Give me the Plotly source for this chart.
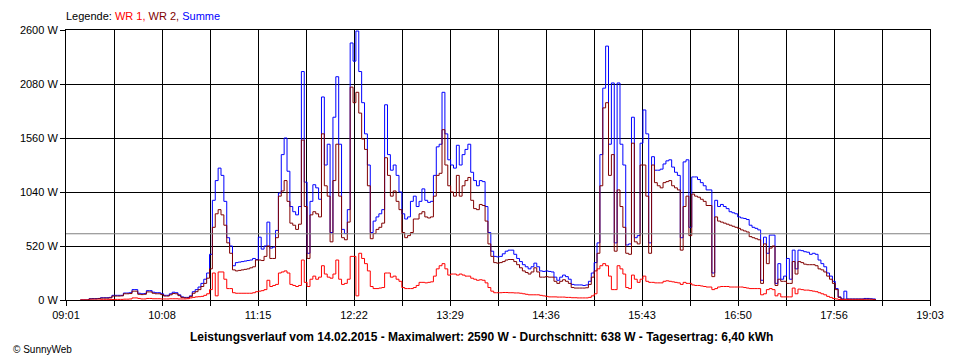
import numpy as np
import plotly.graph_objects as go

# time base: minutes since midnight, 2-minute samples starting 09:11
t_start = 551
t_step = 2

summe = [
    0,0,0,12,13,13,15,22,22,22,
    25,45,45,45,45,67,67,70,100,100,
    65,60,62,90,90,75,70,70,60,45,
    45,60,75,70,50,30,25,25,40,80,
    100,125,160,200,260,440,960,1150,1270,1200,
    950,600,520,330,360,365,370,375,380,385,
    400,390,605,490,520,750,500,510,670,1030,
    1400,1560,1240,900,850,820,900,2200,1135,450,
    950,1110,1080,970,1955,1300,1500,650,1760,2150,
    1500,680,640,870,2475,2300,2590,2200,1900,1600,
    1300,650,760,800,830,870,1880,1400,1250,1300,
    1200,1040,830,780,800,950,1000,900,950,1070,
    960,940,950,1200,1475,1500,2000,1600,1350,1300,
    1270,1490,1300,1400,1450,1500,1230,1150,1100,1150,
    1140,900,650,470,420,415,420,445,470,480,
    480,440,400,370,340,320,300,320,355,320,
    280,275,280,275,270,220,190,220,240,225,
    200,150,145,145,145,140,145,180,260,360,
    550,1400,2040,2445,1500,2090,550,2090,1500,1300,
    530,540,1760,600,620,1510,1830,1600,550,1380,
    1250,1250,1260,1310,1340,1350,1280,1230,1200,600,
    1330,1350,700,1185,1185,1160,1130,1100,1060,1060,
    260,960,900,920,900,880,850,840,830,800,
    790,785,775,720,700,690,675,190,605,450,
    625,625,160,350,200,230,400,200,480,300,
    480,475,465,460,440,450,440,385,350,320,
    260,230,180,110,30,10,85,10,10,10,
    10,10,10,15,15,12,10,0,
]

wr2 = [
    0,0,0,10,11,11,13,18,18,18,
    20,38,38,38,40,60,60,62,85,85,
    55,52,55,78,78,65,60,60,52,38,
    38,50,62,60,42,25,20,20,32,65,
    80,100,130,160,210,300,700,830,870,820,
    720,550,450,290,280,285,290,295,300,310,
    320,385,385,380,420,520,400,400,600,1000,
    1050,1150,950,740,720,680,730,1540,900,400,
    820,850,830,800,1600,1100,1000,560,1150,1500,
    1000,600,580,750,2050,1900,2000,1800,1550,1450,
    1100,590,640,680,700,740,1370,1200,1000,1050,
    950,870,650,600,620,650,780,780,830,850,
    800,790,800,1000,1200,1220,1640,1300,1100,1040,
    1000,1200,1000,1100,1150,1180,960,880,870,920,
    910,760,540,420,360,355,360,370,385,390,
    390,370,340,310,280,265,250,270,310,270,
    220,220,225,220,220,180,160,180,195,180,
    160,120,115,115,115,115,118,150,220,280,
    450,1100,1850,1900,1200,1400,470,1060,900,700,
    450,440,1510,560,540,1300,1300,1000,450,1300,
    1130,1100,1080,1130,1140,1150,1100,1080,1060,480,
    900,1000,620,1020,1000,990,970,950,910,910,
    225,800,760,750,740,730,720,710,700,690,
    675,665,655,610,600,590,580,160,540,350,
    500,520,140,200,180,180,160,160,370,250,
    370,360,345,340,340,340,330,300,290,270,
    230,200,160,100,25,8,8,8,8,8,
    8,8,8,8,8,8,5,0,
]

wr1 = [
    0,0,0,0,0,0,0,3,3,3,
    4,5,6,6,6,8,8,10,20,20,
    15,10,10,15,15,12,12,12,10,10,
    10,12,12,12,10,10,10,12,20,25,
    30,32,35,45,60,100,260,40,270,270,
    200,110,110,70,65,65,65,65,65,65,
    70,80,85,90,100,190,130,140,150,260,
    270,280,260,150,140,130,140,385,170,130,
    200,230,200,220,330,250,220,210,250,385,
    200,150,160,200,420,420,40,450,400,350,
    280,130,110,110,115,120,260,260,220,230,
    200,180,120,110,110,110,120,140,170,170,
    165,170,175,230,300,330,350,300,240,250,
    250,240,250,240,230,230,210,200,190,195,
    190,165,120,85,70,70,70,72,72,70,
    70,68,68,65,60,55,50,50,50,50,
    45,40,35,30,30,30,28,28,28,25,
    25,22,22,20,20,20,20,25,40,60,
    300,330,350,330,230,100,100,330,300,250,
    120,110,240,200,170,200,230,180,170,170,
    165,165,165,180,185,180,175,170,165,150,
    170,160,160,145,140,140,135,130,125,125,
    100,110,125,130,130,130,125,125,125,125,
    125,120,115,110,110,110,110,50,60,100,
    110,100,40,60,30,30,30,30,115,60,
    105,100,95,95,90,85,80,70,60,50,
    35,25,15,10,5,3,3,3,2,2,
    2,2,2,0,0,0,0,0,
]

average_w = 638
x_labels = ["09:01", "10:08", "11:15", "12:22", "13:29", "14:36", "15:43", "16:50", "17:56", "19:03"]
y_values = [0, 520, 1040, 1560, 2080, 2600]
y_labels = ["0 W", "520 W", "1040 W", "1560 W", "2080 W", "2600 W"]
caption = ("Leistungsverlauf vom 14.02.2015 - Maximalwert: 2590 W - "
           "Durchschnitt: 638 W - Tagesertrag: 6,40 kWh")

times = t_start + t_step * np.arange(len(summe))

x_min = 9 * 60 + 1
x_max = 19 * 60 + 3
n_int = 18
tickvals = [x_min + k * (x_max - x_min) / n_int for k in range(n_int + 1)]
ticktext = []
for k in range(n_int + 1):
    ticktext.append(x_labels[k // 2] if k % 2 == 0 else "")

FONT = "Liberation Sans, Arial, sans-serif"

# page has an 8px body margin, so the figure is 952x352 and offsets are shifted
PL, PT = 52, 22          # plot-area left / top inside the figure
PW, PH = 870, 270        # plot-area size

fig = go.Figure()
fig.add_trace(go.Scatter(x=times, y=summe, mode="lines", name="Summe",
                         line=dict(color="#0000FF", width=1, shape="hv")))
fig.add_trace(go.Scatter(x=times, y=wr2, mode="lines", name="WR 2",
                         line=dict(color="#800000", width=1, shape="hv")))
fig.add_trace(go.Scatter(x=times, y=wr1, mode="lines", name="WR 1",
                         line=dict(color="#FF0000", width=1, shape="hv")))

fig.add_shape(type="line", xref="paper", x0=0, x1=1, yref="y",
              y0=average_w, y1=average_w, line=dict(color="#808080", width=1))

fig.update_xaxes(range=[x_min, x_max], tickmode="array", tickvals=tickvals,
                 ticktext=ticktext, showgrid=True, gridcolor="black", gridwidth=1,
                 showline=True, linecolor="black", linewidth=1, mirror=True,
                 ticks="outside", ticklen=5, tickcolor="black", zeroline=False,
                 tickfont=dict(family=FONT, size=11, color="black"))
fig.update_yaxes(range=[0, 2600], tickmode="array", tickvals=y_values,
                 ticktext=y_labels, showgrid=True, gridcolor="black", gridwidth=1,
                 showline=True, linecolor="black", linewidth=1, mirror=True,
                 ticks="outside", ticklen=5, tickcolor="black", zeroline=False,
                 tickfont=dict(family=FONT, size=11, color="black"))

# page coordinates: plot area spans x 60..930, y 30..300
fig.add_annotation(xref="paper", yref="paper", x=-2 / PW, y=(300 - 16) / PH,
                   xanchor="left", yanchor="middle", showarrow=False,
                   text=("Legende: <span style='color:#FF0000'>WR 1,</span> "
                         "<span style='color:#800000'>WR 2,</span> "
                         "<span style='color:#0000FF'>Summe</span>"),
                   font=dict(family=FONT, size=11, color="black"))
fig.add_annotation(xref="paper", yref="paper", x=(478 - 60) / PW, y=-(337 - 300) / PH,
                   xanchor="center", yanchor="middle", showarrow=False,
                   text="<b>" + caption + "</b>",
                   font=dict(family=FONT, size=12, color="black"))
fig.add_annotation(xref="paper", yref="paper", x=-(PL + 3) / PW, y=-(349 - 300) / PH,
                   xanchor="left", yanchor="middle", showarrow=False,
                   text="© SunnyWeb",
                   font=dict(family=FONT, size=10, color="black"))

fig.update_layout(width=952, height=352, showlegend=False,
                  margin=dict(l=PL, r=952 - PL - PW, t=PT, b=352 - PT - PH, pad=0),
                  plot_bgcolor="white", paper_bgcolor="white")

fig.write_html("out.html")
